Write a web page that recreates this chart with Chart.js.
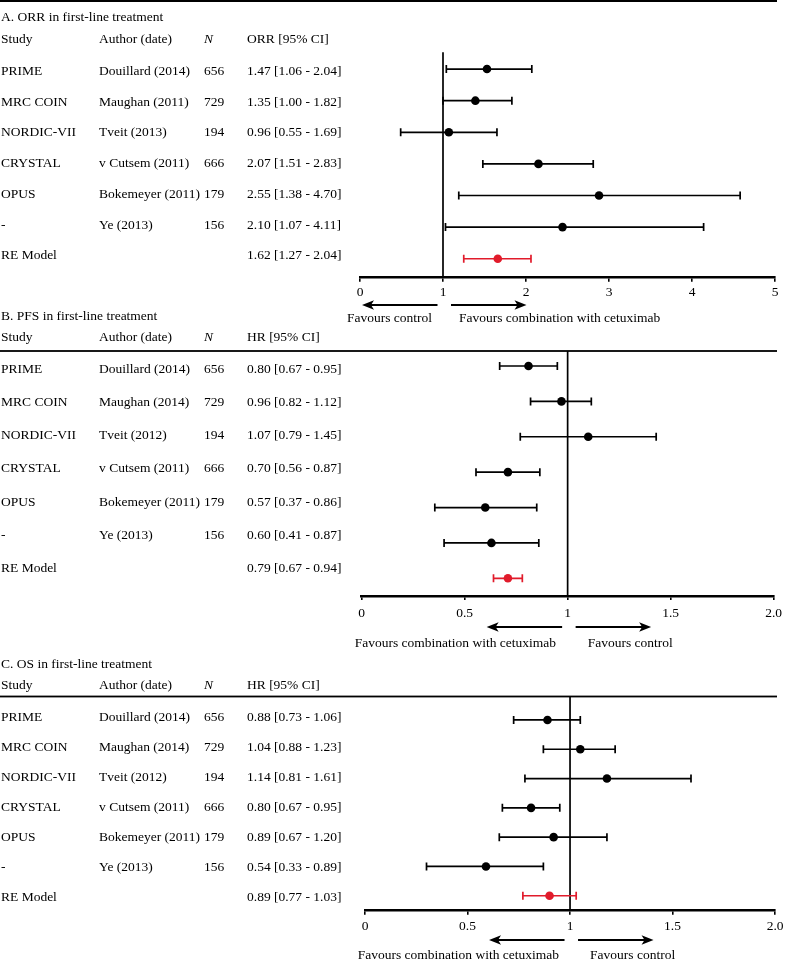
<!DOCTYPE html>
<html><head><meta charset="utf-8">
<script src="https://cdn.jsdelivr.net/npm/chart.js@4"></script>
<style>
html,body{margin:0;padding:0;background:#fff;}
body{width:787px;height:960px;position:relative;overflow:hidden;}
canvas{position:absolute;left:0;}
</style></head><body>
<canvas id="cA" width="787" height="330" style="top:0px;width:787px;height:330px"></canvas>
<canvas id="cB" width="787" height="355" style="top:300px;width:787px;height:355px"></canvas>
<canvas id="cC" width="787" height="310" style="top:650px;width:787px;height:310px"></canvas>
<script>
// ---------- data ----------
const studies = ['PRIME', 'MRC COIN', 'NORDIC-VII', 'CRYSTAL', 'OPUS', '-', 'RE Model'];
const authorsORR = ['Douillard (2014)', 'Maughan (2011)', 'Tveit (2013)', 'v Cutsem (2011)', 'Bokemeyer (2011)', 'Ye (2013)', ''];
const authorsHR = ['Douillard (2014)', 'Maughan (2014)', 'Tveit (2012)', 'v Cutsem (2011)', 'Bokemeyer (2011)', 'Ye (2013)', ''];
const patients = ['656', '729', '194', '666', '179', '156', ''];

const orrText = ['1.47 [1.06 - 2.04]', '1.35 [1.00 - 1.82]', '0.96 [0.55 - 1.69]', '2.07 [1.51 - 2.83]', '2.55 [1.38 - 4.70]', '2.10 [1.07 - 4.11]', '1.62 [1.27 - 2.04]'];
const pfsText = ['0.80 [0.67 - 0.95]', '0.96 [0.82 - 1.12]', '1.07 [0.79 - 1.45]', '0.70 [0.56 - 0.87]', '0.57 [0.37 - 0.86]', '0.60 [0.41 - 0.87]', '0.79 [0.67 - 0.94]'];
const osText  = ['0.88 [0.73 - 1.06]', '1.04 [0.88 - 1.23]', '1.14 [0.81 - 1.61]', '0.80 [0.67 - 0.95]', '0.89 [0.67 - 1.20]', '0.54 [0.33 - 0.89]', '0.89 [0.77 - 1.03]'];

// plotted estimates and intervals as drawn in the figure
const orrEst = [1.53, 1.39, 1.07, 2.15, 2.88, 2.44, 1.66];
const orrLo  = [1.04, 1.00, 0.49, 1.48, 1.19, 1.03, 1.25];
const orrHi  = [2.07, 1.83, 1.65, 2.81, 4.58, 4.14, 2.06];

const pfsEst = [0.81, 0.97, 1.10, 0.71, 0.60, 0.63, 0.71];
const pfsLo  = [0.67, 0.82, 0.77, 0.555, 0.355, 0.40, 0.64];
const pfsHi  = [0.95, 1.115, 1.43, 0.865, 0.85, 0.86, 0.78];

const osEst = [0.89, 1.05, 1.18, 0.81, 0.92, 0.59, 0.90];
const osLo  = [0.725, 0.87, 0.78, 0.67, 0.655, 0.30, 0.77];
const osHi  = [1.05, 1.22, 1.59, 0.95, 1.18, 0.87, 1.03];

const ticksORR = ['0', '1', '2', '3', '4', '5'];
const ticksHR = ['0', '0.5', '1', '1.5', '2.0'];

const titleA = 'A. ORR in first-line treatment';
const titleB = 'B. PFS in first-line treatment';
const titleC = 'C. OS in first-line treatment';
const headers = ['Study', 'Author (date)', 'N'];
const favCtrl = 'Favours control';
const favComb = 'Favours combination with cetuximab';

// ---------- drawing ----------
const RED = '#e11b2b';
const FONT = '13.5px "Liberation Serif", "Times New Roman", serif';
const FONT_I = 'italic 13.5px "Liberation Serif", "Times New Roman", serif';

function makePanel(p) {
  const canvas = document.getElementById(p.id);
  const H = canvas.height;
  const plugin = {
    id: 'forest' + p.id,
    beforeDatasetsDraw(chart) {
      const ctx = chart.ctx, xs = chart.scales.x, ys = chart.scales.y, ca = chart.chartArea;
      ctx.save();
      // reference line at 1
      const x1 = xs.getPixelForValue(1);
      ctx.strokeStyle = '#000'; ctx.lineWidth = 1.7;
      ctx.beginPath(); ctx.moveTo(x1, ca.top); ctx.lineTo(x1, ca.bottom); ctx.stroke();
      // confidence intervals
      p.est.forEach((v, i) => {
        const y = ys.getPixelForValue(i);
        const a = xs.getPixelForValue(p.lo[i]), b = xs.getPixelForValue(p.hi[i]);
        ctx.strokeStyle = i === p.est.length - 1 ? RED : '#000';
        ctx.lineWidth = 1.7;
        ctx.beginPath();
        ctx.moveTo(a, y); ctx.lineTo(b, y);
        ctx.moveTo(a, y - 4); ctx.lineTo(a, y + 4);
        ctx.moveTo(b, y - 4); ctx.lineTo(b, y + 4);
        ctx.stroke();
      });
      ctx.restore();
    },
    afterDraw(chart) {
      const ctx = chart.ctx, xs = chart.scales.x;
      const T = p.top;
      ctx.save();
      ctx.fillStyle = '#000';
      // top rule
      ctx.fillRect(0, p.ruleY - T - p.ruleW / 2, 777, p.ruleW);
      // table text
      ctx.font = FONT; ctx.textAlign = 'left'; ctx.textBaseline = 'alphabetic';
      ctx.fillText(p.title, 1, p.titleBase - T);
      const cols = [1, 99, 204, 247];
      ctx.fillText(headers[0], cols[0], p.headBase - T);
      ctx.fillText(headers[1], cols[1], p.headBase - T);
      ctx.font = FONT_I; ctx.fillText(headers[2], cols[2], p.headBase - T);
      ctx.font = FONT; ctx.fillText(p.effHeader, cols[3], p.headBase - T);
      for (let i = 0; i < studies.length; i++) {
        const yb = p.rowBase + i * p.rowStep - T;
        ctx.fillText(studies[i], cols[0], yb);
        ctx.fillText(p.authors[i], cols[1], yb);
        ctx.fillText(patients[i], cols[2], yb);
        ctx.fillText(p.text[i], cols[3], yb);
      }
      // direction arrows
      const x1 = xs.getPixelForValue(1);
      const ay = p.arrowY - T;
      ctx.strokeStyle = '#000'; ctx.lineWidth = 1.8;
      const arrow = (xa, xb, dir) => {
        const tip = dir < 0 ? xa : xb;
        ctx.beginPath();
        if (dir < 0) { ctx.moveTo(xa + 8, ay); ctx.lineTo(xb, ay); }
        else { ctx.moveTo(xa, ay); ctx.lineTo(xb - 8, ay); }
        ctx.stroke();
        ctx.beginPath();
        ctx.moveTo(tip, ay);
        ctx.lineTo(tip - dir * 12, ay - 4.8);
        ctx.lineTo(tip - dir * 9, ay);
        ctx.lineTo(tip - dir * 12, ay + 4.8);
        ctx.closePath(); ctx.fill();
      };
      arrow(x1 - 81, x1 - 5.5, -1);
      arrow(x1 + 8, x1 + 83.5, 1);
      ctx.font = FONT;
      ctx.textAlign = 'right';
      ctx.fillText(p.leftLabel, x1 - p.leftGap, p.labelBase - T);
      ctx.textAlign = 'left';
      ctx.fillText(p.rightLabel, x1 + p.rightGap, p.labelBase - T);
      ctx.restore();
    }
  };
  const n = p.est.length;
  const main = [], pooled = [];
  for (let i = 0; i < n; i++) {
    (i === n - 1 ? pooled : main).push({ x: p.est[i], y: i });
  }
  return new Chart(canvas, {
    type: 'scatter',
    data: {
      datasets: [
        { data: main, backgroundColor: '#000', borderColor: '#000', pointRadius: 4.3, pointHoverRadius: 4.3, borderWidth: 0 },
        { data: pooled, backgroundColor: RED, borderColor: RED, pointRadius: 4.3, pointHoverRadius: 4.3, borderWidth: 0 }
      ]
    },
    options: {
      responsive: false, animation: false, devicePixelRatio: 1,
      events: [],
      layout: { padding: { left: p.left, right: 787 - p.right, top: p.areaTop - p.top, bottom: H - (p.axisY - p.top) - 40 } },
      plugins: { legend: { display: false }, tooltip: { enabled: false } },
      scales: {
        x: {
          type: 'linear', min: p.xmin, max: p.xmax,
          afterFit: (s) => { s.height = 40; },
          border: { display: true, color: '#000', width: 2.6 },
          grid: { display: true, drawOnChartArea: false, drawTicks: true, tickLength: 4, color: '#000', lineWidth: 1.6 },
          ticks: {
            stepSize: p.step, autoSkip: false, maxRotation: 0, padding: p.tickPad,
            color: '#000', font: { family: '"Liberation Serif", "Times New Roman", serif', size: 13.5 },
            callback: (v, i) => p.tickLabels[i]
          }
        },
        y: { type: 'linear', display: false, reverse: true, min: p.ymin, max: p.ymax }
      }
    },
    plugins: [plugin]
  });
}

makePanel({
  id: 'cA', top: 0, title: titleA, effHeader: 'ORR [95% CI]', authors: authorsORR, text: orrText,
  est: orrEst, lo: orrLo, hi: orrHi, tickLabels: ticksORR, xmin: 0, xmax: 5, step: 1,
  left: 360, right: 775, areaTop: 52.3, axisY: 277.7, ymin: -0.53, ymax: 6.6, tickPad: 3,
  ruleY: 1, ruleW: 2, titleBase: 20.7, headBase: 42.5, rowBase: 75, rowStep: 30.7,
  arrowY: 305, labelBase: 321.5, leftLabel: favCtrl, rightLabel: favComb, leftGap: 11, rightGap: 16
});
makePanel({
  id: 'cB', top: 300, title: titleB, effHeader: 'HR [95% CI]', authors: authorsHR, text: pfsText,
  est: pfsEst, lo: pfsLo, hi: pfsHi, tickLabels: ticksHR, xmin: 0, xmax: 2, step: 0.5,
  left: 361.7, right: 776, areaTop: 351, axisY: 596, ymin: -0.424, ymax: 6.5, tickPad: 5,
  ruleY: 351, ruleW: 1.8, titleBase: 320, headBase: 341, rowBase: 372.8, rowStep: 33.2,
  arrowY: 627, labelBase: 647, leftLabel: favComb, rightLabel: favCtrl, leftGap: 11.6, rightGap: 20
});
makePanel({
  id: 'cC', top: 650, title: titleC, effHeader: 'HR [95% CI]', authors: authorsHR, text: osText,
  est: osEst, lo: osLo, hi: osHi, tickLabels: ticksHR, xmin: 0, xmax: 2, step: 0.5,
  left: 365, right: 776, areaTop: 696.5, axisY: 910.7, ymin: -0.80, ymax: 6.51, tickPad: 3.5,
  ruleY: 696.5, ruleW: 1.8, titleBase: 668, headBase: 689.3, rowBase: 720.5, rowStep: 30,
  arrowY: 940, labelBase: 958.5, leftLabel: favComb, rightLabel: favCtrl, leftGap: 11, rightGap: 20
});
</script>
</body></html>
